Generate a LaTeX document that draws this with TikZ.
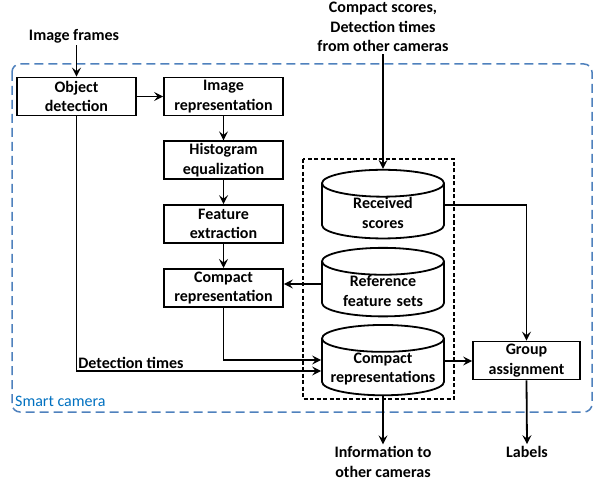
\documentclass[tikz,border=0pt]{standalone}
\usepackage{fontspec}
\setmainfont{Carlito}
\usetikzlibrary{positioning, shapes.geometric, arrows.meta}

\definecolor{camblue}{RGB}{79,129,189}
\definecolor{camtext}{RGB}{0,112,192}

\begin{document}
\begin{tikzpicture}[
    x=1pt, y=-1pt,
    node distance=24pt,
    font=\fontsize{16}{19.5}\selectfont\bfseries, % bold text
    % Styles
    box/.style={
        draw, rectangle, align=center, line width=1.8pt,
        minimum width=119pt, minimum height=38pt, inner sep=2pt
    },
    cyl_box/.style={
        draw, cylinder, shape border rotate=90, aspect=0.24, align=center,
        text width=108pt, inner xsep=2pt, inner ysep=0pt,
        line width=1.8pt, minimum width=122pt, minimum height=62pt
    },
    label_text/.style={align=center, inner sep=2pt},
    arrow/.style={-{Stealth[length=9pt, width=9pt, inset=3.5pt]}, line width=1.8pt}
]
    \useasboundingbox (0,0) rectangle (594,486);

    % --- NODES ---
    \node[label_text] (frames) at (74,36) {Image frames};
    \node[box] (od) at (76.5,96.5) {Object\\detection};
    \node[box] (ir) at (223.5,96.5) {Image\\representation};
    \node[box, below=of ir] (he) {Histogram\\equalization};
    \node[box, below=of he] (fe) {Feature\\extraction};
    \node[box, below=of fe] (cr) {Compact\\representation};

    % Databases (text sits a little below the middle of each cylinder)
    \node[label_text] (scores) at (383,27) {Compact scores,\\Detection times\\from other cameras};
    \node[cyl_box] (rs) at (383,213) {Received\\scores};
    \node[cyl_box] (rf) at (383,291) {Reference\\feature sets};
    \node[cyl_box] (crs) at (383,369) {Compact\\representations};
    \node[box, minimum width=107pt] (ga) at (526.5,360.5) {Group\\assignment};

    % Outputs
    \node[label_text] (info) at (383,462) {Information to\\other cameras};
    \node[label_text] (labels) at (527,452) {Labels};

    % --- FRAMES ---
    \draw[camblue, line width=1.5pt, dash pattern=on 9pt off 5pt, rounded corners=8pt] (12,64) rectangle (592,412);
    \node[anchor=west, text=camtext, inner sep=1pt, font=\fontsize{16}{19.5}\selectfont] (smart) at (14,401) {Smart camera};
    \draw[line width=1.8pt, dash pattern=on 4pt off 2.5pt] (303,159) rectangle (454,399);

    % --- CONNECTIONS ---
    \draw[arrow] (od.north |- frames.south) -- (od.north);
    \draw[arrow] (od.east) -- (ir.west);
    \draw[arrow] (ir) -- (he);
    \draw[arrow] (he) -- (fe);
    \draw[arrow] (fe) -- (cr);

    \draw[arrow] (scores.south) -- (rs.north);
    \draw[arrow] ([yshift=8pt]rs.east) -| (ga.north);
    \draw[arrow] ([yshift=7pt]rf.west) -- ([yshift=7pt]rf.west -| cr.east);
    \draw[arrow] (cr.south) |- ([yshift=9pt]crs.west);
    \draw[arrow] (od.south) |- node[pos=0.5, above right, inner sep=1pt] {Detection times} ([yshift=-2pt]crs.west);
    \draw[arrow] ([yshift=8pt]crs.east) -- ([yshift=8pt]crs.east -| ga.west);

    \draw[arrow] (crs.south) -- (info.north);
    \draw[arrow] (ga.south) -- (labels.north);

\end{tikzpicture}
\end{document}
